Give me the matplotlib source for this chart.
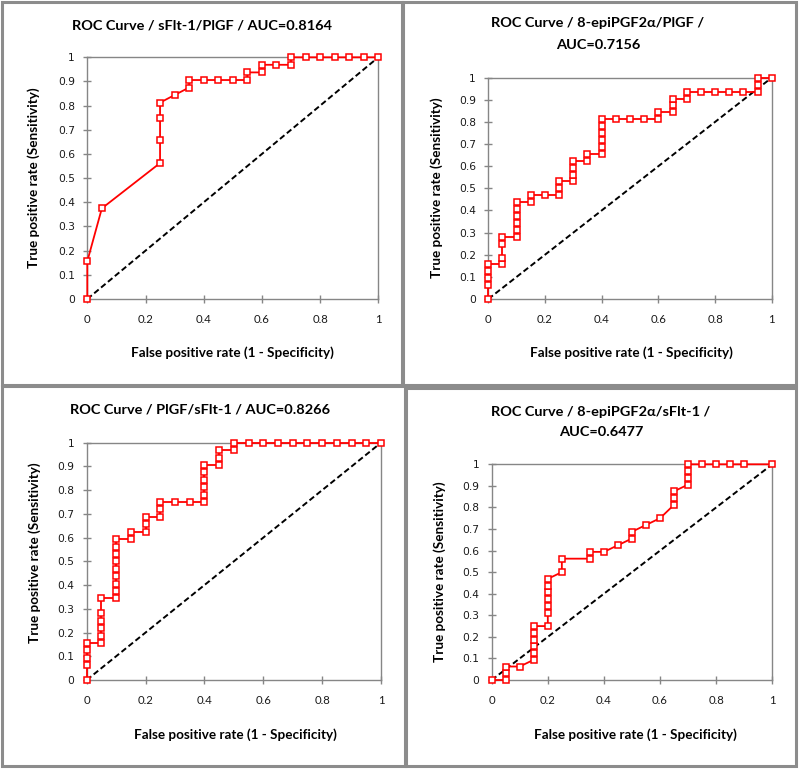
import matplotlib
matplotlib.use("Agg")
import matplotlib.pyplot as plt
from matplotlib.patches import Rectangle

# ---------------- data ----------------
titles = [
    "ROC Curve / sFlt-1/PlGF / AUC=0.8164",
    "ROC Curve / 8-epiPGF2\u03b1/PlGF /\nAUC=0.7156",
    "ROC Curve / PlGF/sFlt-1 / AUC=0.8266",
    "ROC Curve / 8-epiPGF2\u03b1/sFlt-1 /\nAUC=0.6477",
]
xlabel = "False positive rate (1 - Specificity)"
ylabel = "True positive rate (Sensitivity)"

fpr1 = [0, 0, 0.05, 0.25, 0.25, 0.25, 0.25, 0.30, 0.35, 0.35, 0.40, 0.45, 0.50,
        0.55, 0.55, 0.60, 0.60, 0.65, 0.70, 0.70, 0.75, 0.80, 0.85, 0.90, 0.95, 1.0]
tpr1 = [0, 0.156, 0.375, 0.5625, 0.656, 0.75, 0.8125, 0.844, 0.875, 0.906, 0.906,
        0.906, 0.906, 0.906, 0.9375, 0.9375, 0.969, 0.969, 0.969, 1, 1, 1, 1, 1, 1, 1]

fpr2 = [0, 0, 0, 0, 0, 0.05, 0.05, 0.05, 0.05, 0.10, 0.10, 0.10, 0.10, 0.10, 0.10,
        0.15, 0.15, 0.20, 0.25, 0.25, 0.25, 0.30, 0.30, 0.30, 0.30, 0.35, 0.35,
        0.40, 0.40, 0.40, 0.40, 0.40, 0.40, 0.45, 0.50, 0.55, 0.60, 0.60, 0.65,
        0.65, 0.65, 0.70, 0.70, 0.75, 0.80, 0.85, 0.90, 0.95, 0.95, 0.95, 1.0]
tpr2 = [0, 0.0625, 0.094, 0.125, 0.156, 0.156, 0.1875, 0.25, 0.281, 0.281, 0.3125,
        0.344, 0.375, 0.406, 0.4375, 0.4375, 0.469, 0.469, 0.469, 0.5, 0.531, 0.531,
        0.5625, 0.594, 0.625, 0.625, 0.656, 0.656, 0.6875, 0.719, 0.75, 0.781,
        0.8125, 0.8125, 0.8125, 0.8125, 0.8125, 0.844, 0.844, 0.875, 0.906, 0.906,
        0.9375, 0.9375, 0.9375, 0.9375, 0.9375, 0.9375, 0.969, 1, 1]

fpr3 = [0, 0, 0, 0, 0, 0.05, 0.05, 0.05, 0.05, 0.05, 0.05, 0.10, 0.10, 0.10, 0.10,
        0.10, 0.10, 0.10, 0.10, 0.10, 0.15, 0.15, 0.20, 0.20, 0.20, 0.25, 0.25,
        0.25, 0.30, 0.35, 0.40, 0.40, 0.40, 0.40, 0.40, 0.40, 0.45, 0.45, 0.45,
        0.50, 0.50, 0.55, 0.60, 0.65, 0.70, 0.75, 0.80, 0.85, 0.90, 0.95, 1.0]
tpr3 = [0, 0.0625, 0.094, 0.125, 0.156, 0.156, 0.1875, 0.219, 0.25, 0.281, 0.344,
        0.344, 0.375, 0.406, 0.4375, 0.469, 0.5, 0.531, 0.5625, 0.594, 0.594, 0.625,
        0.625, 0.656, 0.6875, 0.6875, 0.719, 0.75, 0.75, 0.75, 0.75, 0.781, 0.8125,
        0.844, 0.875, 0.906, 0.906, 0.9375, 0.969, 0.969, 1, 1, 1, 1, 1, 1, 1, 1,
        1, 1, 1]

fpr4 = [0, 0.05, 0.05, 0.05, 0.10, 0.15, 0.15, 0.15, 0.15, 0.15, 0.15, 0.20, 0.20,
        0.20, 0.20, 0.20, 0.20, 0.20, 0.25, 0.25, 0.35, 0.35, 0.40, 0.45, 0.50,
        0.50, 0.55, 0.60, 0.65, 0.65, 0.65, 0.70, 0.70, 0.70, 0.70, 0.75, 0.80,
        0.85, 0.90, 1.0]
tpr4 = [0, 0, 0.031, 0.0625, 0.0625, 0.094, 0.125, 0.156, 0.1875, 0.219, 0.25, 0.25,
        0.3125, 0.344, 0.375, 0.406, 0.4375, 0.469, 0.5, 0.5625, 0.5625, 0.594,
        0.594, 0.625, 0.656, 0.6875, 0.719, 0.75, 0.8125, 0.844, 0.875, 0.906,
        0.9375, 0.969, 1, 1, 1, 1, 1, 1]

curves = [(fpr1, tpr1), (fpr2, tpr2), (fpr3, tpr3), (fpr4, tpr4)]
xticks = [0, 0.2, 0.4, 0.6, 0.8, 1]
xticklabels = ["0", "0.2", "0.4", "0.6", "0.8", "1"]
yticks = [0, 0.1, 0.2, 0.3, 0.4, 0.5, 0.6, 0.7, 0.8, 0.9, 1]
yticklabels = ["0", "0.1", "0.2", "0.3", "0.4", "0.5", "0.6", "0.7", "0.8", "0.9", "1"]

# ---------------- layout (pixels, top-left origin) ----------------
W, H = 800, 782
axes_px = [  # x0, x1, ytop, ybottom
    (87.3, 378.3, 57.3, 299.0),
    (488.3, 771.7, 77.7, 299.0),
    (86.7, 381.0, 442.7, 680.0),
    (491.7, 772.3, 464.3, 680.0),
]
panels_px = [  # x0, y0, x1, y1
    (1.5, 1.5, 402, 385),
    (403, 1.5, 795.5, 385),
    (1.5, 386, 405, 766),
    (406, 388, 795.5, 766),
]
title_pos = [(202, 25, None), (598, 23, 45), (200, 410, None), (601, 412, 432)]
xlabel_pos = [(232, 353), (631, 353), (235, 735), (635, 735)]
ylabel_pos = [(34, 178), (437, 188), (35, 553), (440, 572)]

GRAY = "#868686"
RED = "#ff0000"
SANS = ["Lato", "DejaVu Sans"]

fig = plt.figure(figsize=(W / 100, H / 100), dpi=100)
fig.patch.set_facecolor("white")
renderer = fig.canvas.get_renderer()


def fit_size(s, target_px, family, weight="bold", base=10.0):
    t = fig.text(0, 0, s, fontsize=base, family=family, fontweight=weight)
    w = t.get_window_extent(renderer).width
    t.remove()
    return base * target_px / w


title_fs = fit_size(titles[0], 260, SANS)
label_fs = fit_size(xlabel, 202, SANS)


def fx(px):
    return px / W


def fy(py):
    return 1 - py / H


# panel borders
for (x0, y0, x1, y1) in panels_px:
    fig.add_artist(Rectangle((fx(x0), fy(y1)), fx(x1) - fx(x0), fy(y0) - fy(y1),
                             transform=fig.transFigure, fill=False,
                             edgecolor="#8c8c8c", linewidth=2.2))

for i, (fpr, tpr) in enumerate(curves):
    x0, x1, yt, yb = axes_px[i]
    ax = fig.add_axes([fx(x0), fy(yb), fx(x1) - fx(x0), fy(yt) - fy(yb)])
    ax.set_xlim(0, 1)
    ax.set_ylim(0, 1)
    ax.plot([0, 1], [0, 1], color="black", linestyle=(0, (3, 1.6)), linewidth=1.4,
            zorder=2, clip_on=False)
    ax.plot(fpr, tpr, color=RED, linewidth=1.3, marker="s", markersize=4.8,
            markerfacecolor="white", markeredgecolor=RED, markeredgewidth=1.1,
            zorder=3, clip_on=False)
    for sp in ax.spines.values():
        sp.set_color(GRAY)
        sp.set_linewidth(1.0)
    ax.set_xticks(xticks)
    ax.set_xticklabels(xticklabels, family=SANS, fontsize=8.2)
    ax.set_yticks(yticks)
    ax.set_yticklabels(yticklabels, family="DejaVu Sans", fontsize=7.7)
    ax.tick_params(axis="both", direction="inout", length=6, width=1.0,
                   color=GRAY, labelcolor="#1a1a1a")
    ax.tick_params(axis="x", pad=8)
    ax.tick_params(axis="y", pad=6)

    tx, ty1, ty2 = title_pos[i]
    lines = titles[i].split("\n")
    fig.text(fx(tx), fy(ty1), lines[0], ha="center", va="center",
             fontsize=title_fs, fontweight="bold", family=SANS, color="black")
    if len(lines) > 1:
        fig.text(fx(tx), fy(ty2), lines[1], ha="center", va="center",
                 fontsize=title_fs, fontweight="bold", family=SANS, color="black")
    lx, ly = xlabel_pos[i]
    fig.text(fx(lx), fy(ly), xlabel, ha="center", va="center", fontsize=label_fs,
             fontweight="bold", family=SANS, color="black")
    yx, yy = ylabel_pos[i]
    fig.text(fx(yx), fy(yy), ylabel, ha="center", va="center", rotation=90,
             fontsize=label_fs, fontweight="bold", family=SANS, color="black")

fig.savefig("out.png", dpi=100, facecolor="white")
